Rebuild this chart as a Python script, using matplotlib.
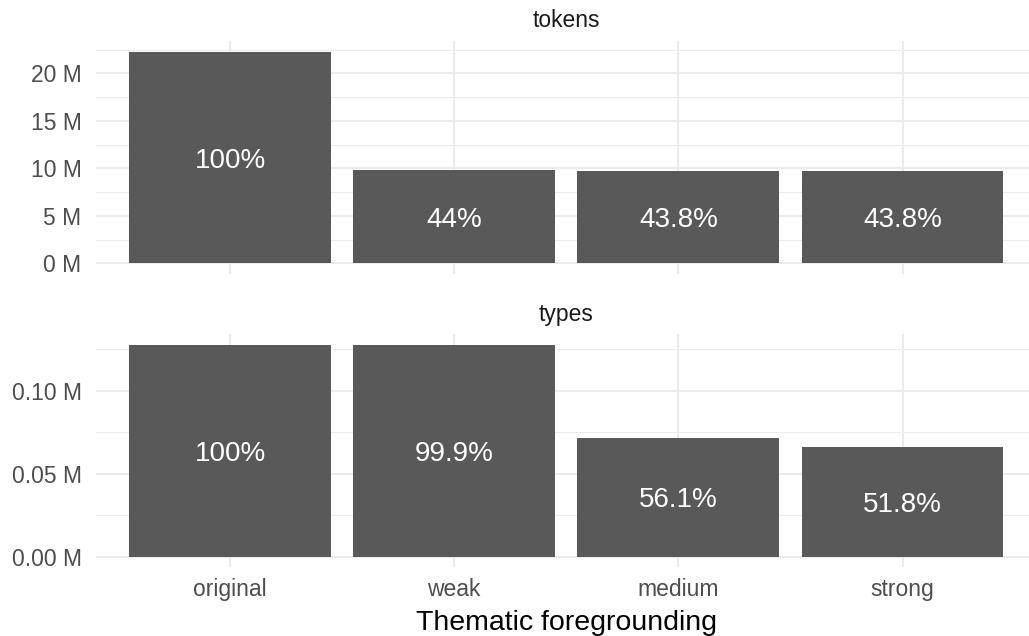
import matplotlib
matplotlib.use('Agg')
import matplotlib.pyplot as plt
from matplotlib.ticker import MultipleLocator, FuncFormatter

plt.rcParams['font.family'] = ['Liberation Sans', 'DejaVu Sans']

# data
categories = ['original', 'weak', 'medium', 'strong']
tokens = [22270000, 9800000, 9754000, 9754000]
types = [127500, 127400, 71500, 66000]
tokens_pct = ['100%', '44%', '43.8%', '43.8%']
types_pct = ['100%', '99.9%', '56.1%', '51.8%']

bar_color = '#595959'
grid_color = '#ebebeb'

fig = plt.figure(figsize=(10.29, 6.36), dpi=100)
W, H = 1029, 636


def panel_axes(x0, y0, x1, y1):
    # pixel box (top-left origin) -> figure fraction
    return fig.add_axes([x0 / W, 1 - y1 / H, (x1 - x0) / W, (y1 - y0) / H])


ax_tok = panel_axes(95.5, 41.2, 1037, 273.9)
ax_typ = panel_axes(95.5, 334.4, 1037, 567.3)

panels = [
    (ax_tok, tokens, tokens_pct, 'tokens', 5e6, '{:.0f} M'),
    (ax_typ, types, types_pct, 'types', 0.05e6, '{:.2f} M'),
]

x = list(range(1, len(categories) + 1))

for ax, values, pct, title, step, fmt in panels:
    ax.bar(x, values, width=0.9, color=bar_color, zorder=2)
    for xi, v, lab in zip(x, values, pct):
        ax.text(xi, v / 2, lab, color='white', fontsize=20,
                ha='center', va='center_baseline', zorder=3)

    vmax = max(values)
    ax.set_ylim(-0.05 * vmax, 1.05 * vmax)
    ax.set_xlim(0.4, len(categories) + 0.6)

    ax.yaxis.set_major_locator(MultipleLocator(step))
    ax.yaxis.set_minor_locator(MultipleLocator(step / 2))
    ax.yaxis.set_major_formatter(FuncFormatter(lambda v, p, f=fmt: f.format(v / 1e6)))
    ax.set_xticks(x)

    ax.grid(which='major', axis='both', color=grid_color, linewidth=1.5, zorder=0)
    ax.grid(which='minor', axis='y', color=grid_color, linewidth=0.8, zorder=0)
    ax.set_axisbelow(True)

    for s in ax.spines.values():
        s.set_visible(False)
    ax.tick_params(axis='both', which='both', length=0)
    ax.tick_params(axis='y', labelsize=16.5, labelcolor='#4d4d4d', pad=10)

    ax.set_title(title, fontsize=16.5, color='#1a1a1a', pad=10)

ax_tok.set_xticklabels([])
ax_typ.set_xticklabels(categories)
ax_typ.tick_params(axis='x', labelsize=16.5, labelcolor='#4d4d4d', pad=8)

fig.text(566 / W, 1 - 623 / H, 'Thematic foregrounding', fontsize=20.5,
         color='black', ha='center', va='center')

fig.savefig('out.png', dpi=100)
